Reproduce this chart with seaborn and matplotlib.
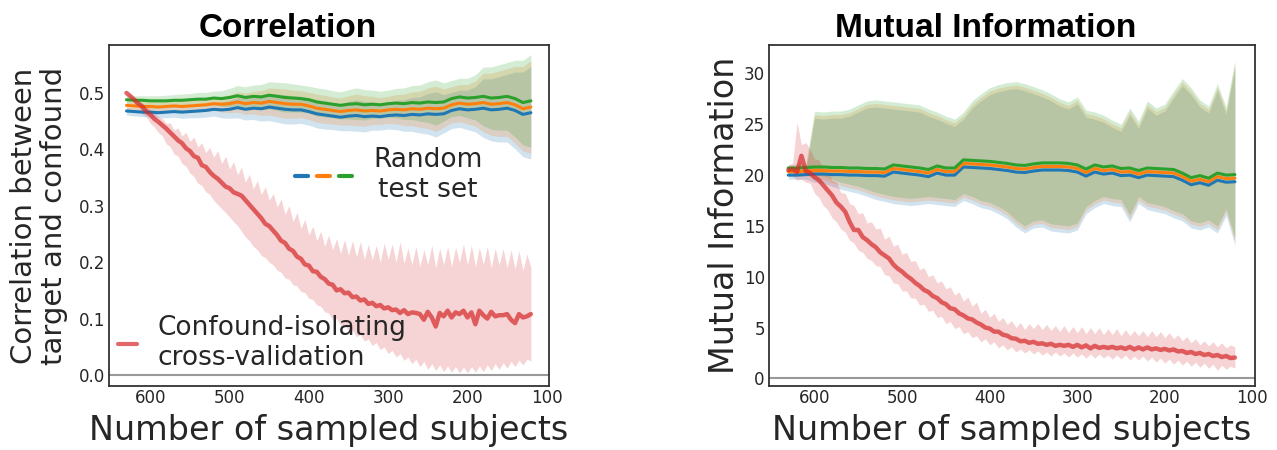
import matplotlib
matplotlib.use("Agg")
import matplotlib.pyplot as plt
from matplotlib.lines import Line2D
from matplotlib.legend_handler import HandlerTuple
import numpy as np
import seaborn as sns

# --- sample sizes (x axis) ---
N_RANDOM = list(range(630, 119, -10))   # 52 steps, random test set curves
N_CONFOUND = list(range(630, 119, -5))  # 103 steps, confound-isolating curve

# --- Correlation panel: random test set (blue / orange / green) ---
CORR_BLUE = [
    .468, .467, .466, .466, .465, .466, .467, .466, .467, .468,
    .469, .471, .470, .471, .474, .471, .473, .472, .475, .473,
    .471, .470, .470, .467, .463, .461, .459, .457, .459, .460,
    .458, .459, .458, .460, .461, .460, .462, .461, .463, .462,
    .463, .469, .472, .470, .471, .473, .470, .471, .473, .469,
    .462, .465]
CORR_ORANGE = [
    .478, .477, .476, .476, .475, .476, .477, .476, .477, .478,
    .479, .481, .480, .481, .484, .481, .483, .482, .485, .483,
    .481, .480, .480, .477, .473, .471, .469, .467, .469, .470,
    .468, .469, .468, .470, .471, .470, .472, .471, .473, .472,
    .473, .479, .482, .480, .481, .483, .480, .481, .483, .479,
    .472, .475]
CORR_GREEN = [
    .488, .487, .487, .486, .486, .486, .487, .487, .488, .489,
    .489, .491, .490, .492, .495, .492, .494, .493, .496, .494,
    .492, .491, .490, .488, .484, .482, .480, .478, .480, .481,
    .479, .480, .479, .481, .482, .481, .483, .482, .484, .483,
    .484, .490, .493, .491, .492, .494, .491, .492, .494, .490,
    .483, .486]
CORR_SPREAD = [
    .007, .008, .008, .009, .009, .010, .010, .011, .011, .012,
    .012, .012, .014, .016, .018, .019, .020, .022, .024, .025,
    .026, .025, .024, .024, .025, .025, .024, .024, .026, .028,
    .027, .025, .024, .024, .026, .028, .030, .032, .036, .040,
    .034, .032, .033, .035, .040, .052, .055, .058, .060, .068,
    .075, .082]

# --- Correlation panel: confound-isolating cross-validation (red) ---
CORR_CONF = [
    .500, .494, .488, .481, .476, .467, .462, .454, .449, .443,
    .437, .430, .423, .416, .411, .402, .397, .388, .385, .372,
    .369, .360, .353, .348, .341, .334, .331, .324, .321, .318,
    .310, .302, .294, .286, .278, .268, .264, .256, .248, .238,
    .234, .224, .220, .210, .206, .196, .194, .184, .183, .174,
    .170, .162, .160, .150, .152, .145, .146, .138, .139, .132,
    .134, .126, .128, .122, .124, .118, .120, .115, .116, .110,
    .115, .108, .111, .110, .108, .098, .112, .102, .086, .110,
    .104, .114, .102, .111, .108, .114, .102, .111, .090, .114,
    .106, .100, .112, .104, .106, .106, .108, .098, .092, .108,
    .102, .104, .108]
CORR_CONF_HI = [
    .500, .497, .490, .488, .480, .478, .470, .466, .458, .455,
    .446, .447, .434, .438, .424, .430, .414, .422, .404, .412,
    .394, .404, .386, .398, .375, .388, .365, .378, .355, .368,
    .342, .356, .330, .345, .320, .334, .310, .322, .298, .312,
    .285, .300, .272, .288, .260, .276, .248, .264, .238, .255,
    .228, .248, .222, .242, .215, .240, .212, .238, .210, .236,
    .205, .232, .204, .230, .200, .234, .205, .232, .200, .236,
    .198, .225, .195, .228, .192, .222, .196, .230, .190, .225,
    .195, .228, .192, .226, .200, .232, .195, .230, .192, .226,
    .196, .228, .190, .225, .195, .224, .190, .222, .188, .220,
    .185, .215, .190]
CORR_CONF_LO = [
    .500, .492, .480, .476, .462, .458, .446, .440, .430, .424,
    .410, .405, .392, .388, .375, .370, .358, .352, .340, .336,
    .325, .320, .310, .302, .295, .288, .280, .272, .265, .255,
    .245, .238, .228, .222, .212, .208, .200, .195, .186, .182,
    .172, .170, .160, .158, .148, .146, .136, .134, .124, .122,
    .112, .110, .098, .100, .088, .090, .078, .080, .068, .072,
    .060, .064, .052, .058, .045, .050, .038, .044, .032, .038,
    .026, .032, .020, .028, .015, .024, .010, .020, .008, .018,
    .006, .016, .005, .015, .004, .014, .004, .015, .005, .016,
    .006, .018, .008, .020, .010, .022, .012, .024, .015, .026,
    .018, .028, .025]

# --- Mutual information panel: random test set ---
MI_BLUE = [
    20.0, 20.0, 20.05, 20.1, 20.1, 20.05, 20.05, 20.0, 20.0, 19.95,
    19.95, 19.9, 20.3, 20.2, 20.1, 20.0, 19.85, 20.2, 20.0, 20.0,
    20.8, 20.75, 20.7, 20.65, 20.55, 20.45, 20.3, 20.25, 20.4, 20.5,
    20.5, 20.5, 20.45, 20.3, 19.9, 20.3, 20.1, 20.2, 19.95, 20.0,
    19.75, 20.0, 19.95, 19.9, 19.85, 19.5, 19.05, 19.25, 19.0, 19.5,
    19.3, 19.35]
MI_ORANGE = [
    20.35, 20.35, 20.4, 20.45, 20.45, 20.4, 20.4, 20.35, 20.35, 20.3,
    20.3, 20.25, 20.65, 20.55, 20.45, 20.35, 20.2, 20.55, 20.35, 20.35,
    21.15, 21.1, 21.05, 21.0, 20.9, 20.8, 20.65, 20.6, 20.75, 20.85,
    20.85, 20.85, 20.8, 20.65, 20.25, 20.65, 20.45, 20.55, 20.3, 20.35,
    20.1, 20.35, 20.3, 20.25, 20.2, 19.85, 19.4, 19.6, 19.35, 19.85,
    19.65, 19.7]
MI_GREEN = [
    20.7, 20.7, 20.75, 20.8, 20.8, 20.75, 20.75, 20.7, 20.7, 20.65,
    20.65, 20.6, 21.0, 20.9, 20.8, 20.7, 20.55, 20.9, 20.7, 20.7,
    21.5, 21.45, 21.4, 21.35, 21.25, 21.15, 21.0, 20.95, 21.1, 21.2,
    21.2, 21.2, 21.15, 21.0, 20.6, 21.0, 20.8, 20.9, 20.65, 20.7,
    20.45, 20.7, 20.65, 20.6, 20.55, 20.2, 19.75, 19.95, 19.7, 20.2,
    20.0, 20.05]
MI_BAND_TOP = [
    21.0, 21.1, 21.1, 26.3, 26.2, 26.3, 26.3, 26.5, 26.9, 27.3,
    27.4, 27.3, 27.2, 27.1, 27.0, 26.9, 26.5, 26.2, 25.8, 25.5,
    26.2, 27.3, 28.0, 28.6, 28.9, 29.1, 29.2, 29.0, 28.7, 28.4,
    28.0, 27.5, 27.2, 27.7, 26.4, 26.2, 25.9, 25.4, 25.0, 26.6,
    25.3, 27.3, 26.6, 27.0, 28.3, 29.5, 28.6, 27.4, 26.8, 29.0,
    26.7, 31.3]
MI_BAND_BOTTOM = [
    19.6, 19.6, 19.6, 19.3, 19.2, 18.9, 18.6, 18.4, 18.2, 17.9,
    17.6, 17.4, 17.2, 17.1, 17.0, 17.1, 17.2, 17.1, 17.0, 16.9,
    17.5, 17.2, 16.8, 16.6, 16.2, 15.7, 14.9, 14.3, 14.8, 14.9,
    14.5, 14.4, 14.3, 14.6, 16.2, 16.8, 17.2, 17.0, 16.9, 15.4,
    17.2, 16.6, 16.4, 16.2, 15.8, 15.5, 14.8, 14.6, 14.9, 14.3,
    16.0, 13.1]

# --- Mutual information panel: confound-isolating cross-validation ---
MI_CONF = [
    20.5, 20.6, 20.3, 21.9, 20.4, 20.2, 19.8, 19.5, 19.0, 18.5,
    18.0, 17.3, 16.9, 16.4, 15.4, 14.6, 14.6, 13.9, 13.6, 13.2,
    12.9, 12.4, 12.1, 11.8, 11.2, 10.8, 10.5, 10.1, 9.8, 9.4,
    9.1, 8.7, 8.5, 8.1, 7.9, 7.5, 7.3, 6.9, 6.8, 6.4,
    6.2, 5.9, 5.8, 5.5, 5.3, 5.0, 4.9, 4.6, 4.6, 4.3,
    4.2, 3.95, 3.9, 3.65, 3.7, 3.5, 3.6, 3.4, 3.45, 3.3,
    3.4, 3.2, 3.3, 3.2, 3.3, 3.1, 3.3, 3.05, 3.25, 2.95,
    3.2, 3.0, 3.1, 3.0, 3.1, 2.95, 3.05, 2.9, 3.1, 2.85,
    3.05, 2.85, 3.05, 2.85, 2.95, 2.8, 2.9, 2.75, 2.85, 2.65,
    2.7, 2.5, 2.6, 2.4, 2.5, 2.3, 2.4, 2.2, 2.3, 2.1,
    2.2, 2.0, 2.05]
MI_CONF_HI = [
    21.0, 21.2, 25.2, 23.0, 23.2, 22.5, 21.6, 21.5, 20.6, 20.4,
    19.5, 19.3, 18.3, 18.2, 17.2, 17.0, 16.2, 16.3, 15.3, 15.4,
    14.7, 14.8, 13.7, 14.0, 13.0, 13.2, 12.2, 12.4, 11.5, 11.6,
    10.7, 10.9, 10.0, 10.2, 9.4, 9.6, 8.8, 9.0, 8.2, 8.5,
    7.6, 8.0, 7.1, 7.5, 6.4, 6.8, 6.0, 6.4, 5.6, 6.0,
    5.3, 5.7, 5.0, 5.5, 4.8, 5.4, 4.9, 5.4, 4.8, 5.3,
    4.7, 5.2, 4.6, 5.2, 4.5, 5.1, 4.5, 5.1, 4.4, 5.0,
    4.4, 5.0, 4.3, 4.9, 4.3, 4.9, 4.2, 4.8, 4.2, 4.7,
    4.2, 4.7, 4.1, 4.7, 4.1, 4.6, 4.0, 4.5, 3.9, 4.3,
    3.7, 4.1, 3.5, 3.9, 3.3, 3.7, 3.2, 3.6, 3.1, 3.5,
    3.0, 3.3, 3.1]
MI_CONF_LO = [
    20.0, 19.9, 19.5, 19.6, 19.3, 19.2, 18.2, 17.8, 17.0, 16.6,
    15.8, 15.4, 14.7, 14.4, 13.6, 13.3, 12.6, 12.4, 11.8, 11.6,
    11.1, 11.0, 10.2, 10.1, 9.4, 9.3, 8.6, 8.6, 7.9, 7.9,
    7.2, 7.3, 6.6, 6.7, 6.0, 6.1, 5.4, 5.6, 4.9, 5.1,
    4.4, 4.6, 4.0, 4.2, 3.6, 3.9, 3.3, 3.6, 3.0, 3.3,
    2.8, 3.1, 2.6, 2.9, 2.5, 2.8, 2.4, 2.7, 2.3, 2.6,
    2.2, 2.6, 2.2, 2.5, 2.1, 2.5, 2.1, 2.4, 2.0, 2.4,
    2.0, 2.4, 2.0, 2.3, 1.9, 2.3, 1.9, 2.3, 1.8, 2.2,
    1.8, 2.2, 1.7, 2.1, 1.6, 2.0, 1.5, 1.9, 1.4, 1.8,
    1.3, 1.7, 1.2, 1.6, 1.1, 1.5, 1.0, 1.4, 0.8, 1.3,
    0.9, 1.2, 1.0]

BLUE, ORANGE, GREEN, RED = "#1f77b4", "#ff7f0e", "#2ca02c", "#d62728"
RANDOM_COLORS = [BLUE, ORANGE, GREEN]
TEXT_COLOR = "#262626"


def draw_panel(ax, means, spread_lo, spread_hi, conf, conf_lo, conf_hi):
    ax.axhline(0, color="0.6", lw=1.5, zorder=1)
    for mean, color in zip(means, RANDOM_COLORS):
        mean = np.asarray(mean)
        ax.fill_between(N_RANDOM, mean - spread_lo, mean + spread_hi,
                        color=color, alpha=0.2, lw=0)
    for mean, color in zip(means, RANDOM_COLORS):
        sns.lineplot(x=N_RANDOM, y=mean, ax=ax, color=color, lw=2.2, errorbar=None)
    ax.fill_between(N_CONFOUND, conf_lo, conf_hi, color=RED, alpha=0.2, lw=0)
    sns.lineplot(x=N_CONFOUND, y=conf, ax=ax, color=RED, alpha=0.7, lw=3.2, errorbar=None)

    ax.set_xlim(652, 97)
    ax.set_xticks([600, 500, 400, 300, 200, 100])
    ax.tick_params(axis="both", labelsize=12, length=0, labelcolor=TEXT_COLOR)
    ax.tick_params(axis="x", pad=2.5)
    ax.tick_params(axis="y", pad=3)
    ax.set_xlabel("Number of sampled subjects", fontsize=24, color=TEXT_COLOR)
    ax.xaxis.set_label_coords(0.5, -0.082)
    for side in ["top", "right", "bottom", "left"]:
        ax.spines[side].set_color("#333333")
        ax.spines[side].set_linewidth(1.3)


def main():
    for arr in [CORR_BLUE, CORR_ORANGE, CORR_GREEN, CORR_SPREAD,
                MI_BLUE, MI_ORANGE, MI_GREEN, MI_BAND_TOP, MI_BAND_BOTTOM]:
        assert len(arr) == len(N_RANDOM), len(arr)
    for arr in [CORR_CONF, CORR_CONF_HI, CORR_CONF_LO, MI_CONF, MI_CONF_HI, MI_CONF_LO]:
        assert len(arr) == len(N_CONFOUND), len(arr)

    sns.set_style("white")
    plt.rcParams["font.family"] = ["DejaVu Sans"]

    fig = plt.figure(figsize=(12.77, 4.5), dpi=100)
    ax1 = fig.add_axes([0.0854, 0.1422, 0.3446, 0.7578])
    ax2 = fig.add_axes([0.6022, 0.1422, 0.3806, 0.7578])

    # Correlation
    spread = np.asarray(CORR_SPREAD)
    draw_panel(ax1, [CORR_BLUE, CORR_ORANGE, CORR_GREEN], spread, spread,
               CORR_CONF, CORR_CONF_LO, CORR_CONF_HI)
    ax1.set_ylim(-0.0195, 0.585)
    ax1.set_yticks([0.0, 0.1, 0.2, 0.3, 0.4, 0.5])
    ax1.set_ylabel("Correlation between\ntarget and confound", fontsize=21,
                   color=TEXT_COLOR, linespacing=1.1)
    ax1.yaxis.set_label_coords(-0.093, 0.5)

    # Mutual information
    mi_hi = np.asarray(MI_BAND_TOP) - np.asarray(MI_GREEN)
    mi_lo = np.asarray(MI_BLUE) - np.asarray(MI_BAND_BOTTOM)
    draw_panel(ax2, [MI_BLUE, MI_ORANGE, MI_GREEN], mi_lo, mi_hi,
               MI_CONF, MI_CONF_LO, MI_CONF_HI)
    ax2.set_ylim(-0.75, 32.8)
    ax2.set_yticks([0, 5, 10, 15, 20, 25, 30])
    ax2.set_ylabel("Mutual Information", fontsize=24, color=TEXT_COLOR)
    ax2.yaxis.set_label_coords(-0.057, 0.5)

    # legends (left panel only)
    conf_handle = Line2D([], [], color=RED, alpha=0.7, lw=3)
    leg1 = ax1.legend([conf_handle], ["Confound-isolating\ncross-validation"],
                      loc="center left", bbox_to_anchor=(0.02, 0.126),
                      fontsize=19, frameon=False, handlelength=0.72,
                      handletextpad=0.8, borderpad=0, borderaxespad=0)
    for t in leg1.get_texts():
        t.set_color(TEXT_COLOR)
    ax1.add_artist(leg1)

    rand_handles = tuple(Line2D([], [], color=c, lw=3) for c in RANDOM_COLORS)
    leg2 = ax1.legend([rand_handles], ["Random\ntest set"],
                      handler_map={tuple: HandlerTuple(ndivide=None, pad=0.35)},
                      loc="center left", bbox_to_anchor=(0.423, 0.619),
                      fontsize=19, frameon=False, handlelength=2.16,
                      handletextpad=0.8, borderpad=0, borderaxespad=0)
    for t in leg2.get_texts():
        t.set_color(TEXT_COLOR)
        t.set_multialignment("center")

    # titles
    for x_pos, title in [(0.2251, "Correlation"), (0.7721, "Mutual Information")]:
        fig.text(x_pos, 1 - 37 / 450, title, ha="center", va="baseline",
                 fontsize=24, fontweight="bold", color="black",
                 family=["Liberation Sans", "DejaVu Sans"])

    fig.savefig("out.png", dpi=100, facecolor="white")
    plt.close(fig)


if __name__ == "__main__":
    main()
